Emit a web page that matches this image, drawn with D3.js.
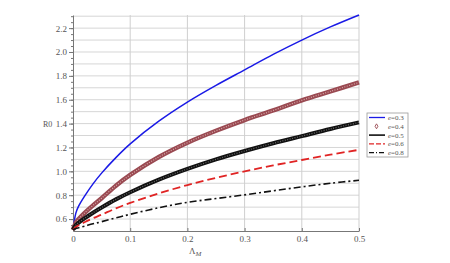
<!DOCTYPE html>
<html>
<head>
<meta charset="utf-8">
<script src="https://cdn.jsdelivr.net/npm/d3@7"></script>
<style>
  body { margin: 0; background: #fff; }
  svg text { font-family: "Liberation Serif", "DejaVu Serif", serif; }
</style>
</head>
<body>
<svg id="chart" width="450" height="263"></svg>
<script>
// sample points along Lambda_M
const lambda = [0, 0.005, 0.01, 0.02, 0.035, 0.05, 0.075, 0.1, 0.15, 0.2, 0.25, 0.3, 0.35, 0.4, 0.45, 0.5];

// R0 values
const r0e03 = [0.51, 0.65, 0.71, 0.79, 0.895, 0.985, 1.115, 1.23, 1.42, 1.58, 1.72, 1.85, 1.98, 2.10, 2.21, 2.31];
const r0e04 = [0.51, 0.57, 0.60, 0.65, 0.715, 0.775, 0.88, 0.97, 1.12, 1.24, 1.34, 1.43, 1.51, 1.595, 1.67, 1.745];
const r0e05 = [0.51, 0.55, 0.57, 0.605, 0.653, 0.697, 0.765, 0.825, 0.93, 1.02, 1.10, 1.17, 1.235, 1.295, 1.355, 1.41];
const r0e06 = [0.51, 0.533, 0.548, 0.573, 0.607, 0.637, 0.69, 0.735, 0.815, 0.885, 0.945, 1.0, 1.05, 1.095, 1.14, 1.18];
const r0e08 = [0.51, 0.52, 0.527, 0.54, 0.56, 0.578, 0.61, 0.64, 0.695, 0.74, 0.772, 0.803, 0.837, 0.87, 0.90, 0.925];

const legendLabels = ['0.3', '0.4', '0.5', '0.6', '0.8'];
const xTicks = [0, 0.1, 0.2, 0.3, 0.4, 0.5];
const yTicks = [0.6, 0.8, 1.0, 1.2, 1.4, 1.6, 1.8, 2.0, 2.2];

const svg = d3.select('#chart');

// scales
const x = d3.scaleLinear().domain([0, 0.5]).range([73, 359]);
const y = d3.scaleLinear().domain([0.5, 2.31]).range([231, 15]);

// grid
const grid = svg.append('g');
grid.selectAll('line.h')
  .data(d3.range(6, 24).map(i => i / 10))
  .enter()
  .append('line')
  .attr('x1', x(0)).attr('x2', x(0.5))
  .attr('y1', d => y(d)).attr('y2', d => y(d))
  .attr('stroke', '#d6d6d6')
  .attr('stroke-width', 1);

grid.selectAll('line.v')
  .data(xTicks.slice(1))
  .enter()
  .append('line')
  .attr('x1', d => x(d)).attr('x2', d => x(d))
  .attr('y1', y(0.5)).attr('y2', y(2.31))
  .attr('stroke', '#cfcfcf')
  .attr('stroke-width', 1);

// axes
const yAxis = svg.append('g')
  .attr('transform', `translate(${x(0)},0)`)
  .call(d3.axisLeft(y).tickValues(yTicks).tickFormat(d3.format('.1f')).tickSize(4).tickSizeOuter(0));
svg.append('g')
  .attr('transform', `translate(${x(0)},0)`)
  .call(d3.axisLeft(y).tickValues(d3.range(11, 47).map(i => i / 20)).tickFormat('').tickSize(2).tickSizeOuter(0))
  .call(g => g.select('.domain').remove());

const xAxis = svg.append('g')
  .attr('transform', `translate(0,${y(0.5)})`)
  .call(d3.axisBottom(x).tickValues(xTicks).tickFormat(d => d === 0 ? '0' : d3.format('.1f')(d)).tickSize(-3).tickSizeOuter(0));

svg.selectAll('.domain').attr('stroke', '#777');
svg.selectAll('.tick line').attr('stroke', '#777');
yAxis.selectAll('text').attr('fill', '#555').style('font-size', '9px').attr('x', -6);
xAxis.selectAll('text').attr('fill', '#555').style('font-size', '9px').attr('y', 5);

// axis titles
svg.append('text')
  .attr('x', 43).attr('y', 127)
  .attr('fill', '#555')
  .style('font-size', '8px')
  .text('R0');

const xt = svg.append('text')
  .attr('x', 189).attr('y', 254)
  .attr('fill', '#555')
  .style('font-size', '9px');
xt.append('tspan').text('Λ');
xt.append('tspan').attr('dy', 2).style('font-size', '7px').style('font-style', 'italic').text('M');

// curves
const series = [
  {vals: r0e03, color: '#1a1ae6', width: 1.5, dash: null},
  {vals: r0e04, color: '#9a4a52', width: 4.5, dash: null, inner: '#d9aaaa'},
  {vals: r0e05, color: '#111', width: 4, dash: null, inner: '#6a6a6a'},
  {vals: r0e06, color: '#e02424', width: 1.8, dash: '8,4'},
  {vals: r0e08, color: '#111', width: 1.6, dash: '7,3,2,3'}
];

const lineGen = d3.line()
  .x(d => x(d[0]))
  .y(d => y(d[1]))
  .curve(d3.curveCatmullRom.alpha(0.5));

const curves = svg.append('g');
series.forEach(s => {
  const pts = lambda.map((l, i) => [l, s.vals[i]]);
  curves.append('path')
    .datum(pts)
    .attr('d', lineGen)
    .attr('fill', 'none')
    .attr('stroke', s.color)
    .attr('stroke-width', s.width)
    .attr('stroke-dasharray', s.dash);
  if (s.inner) {
    curves.append('path')
      .datum(pts)
      .attr('d', lineGen)
      .attr('fill', 'none')
      .attr('stroke', s.inner)
      .attr('stroke-width', 1.2)
      .attr('stroke-dasharray', '1,1.5');
  }
});

// legend
const legend = svg.append('g');
legend.append('rect')
  .attr('x', 367).attr('y', 113)
  .attr('width', 41).attr('height', 44)
  .attr('fill', '#fff')
  .attr('stroke', '#999')
  .attr('stroke-width', 0.8);

legendLabels.forEach((lab, i) => {
  const s = series[i];
  const ly = 117.5 + i * 8.8;
  if (i === 1) {
    legend.append('path')
      .attr('d', d3.symbol(d3.symbolDiamond, 7)())
      .attr('transform', `translate(376.5,${ly})`)
      .attr('fill', 'none')
      .attr('stroke', s.color)
      .attr('stroke-width', 0.9);
  } else {
    legend.append('line')
      .attr('x1', 369).attr('x2', 385)
      .attr('y1', ly).attr('y2', ly)
      .attr('stroke', s.color)
      .attr('stroke-width', i === 2 ? 1.6 : 1.3)
      .attr('stroke-dasharray', i === 3 ? '5,2' : (i === 4 ? '5,2,1,2' : null));
  }
  const t = legend.append('text')
    .attr('x', 388).attr('y', ly + 2.5)
    .attr('fill', '#555')
    .style('font-size', '7px');
  t.append('tspan').style('font-style', 'italic').text('e');
  t.append('tspan').text('=' + lab);
});
</script>
</body>
</html>
